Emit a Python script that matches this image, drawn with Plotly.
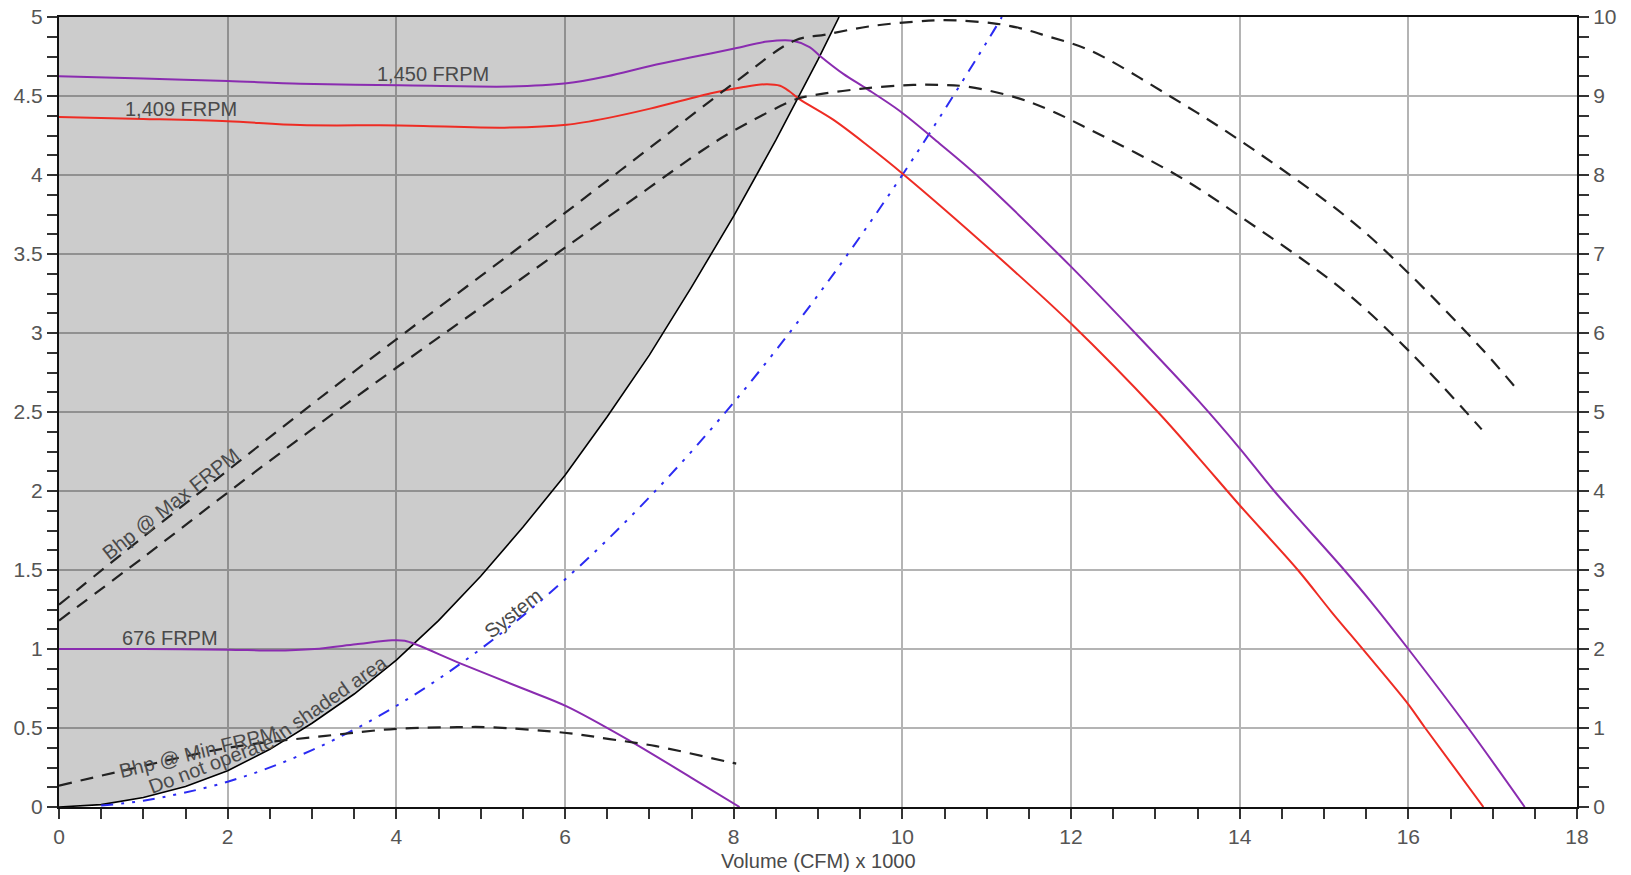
import plotly.graph_objects as go

# ---------------- data ----------------
# Volume (CFM x 1000) / static pressure (left axis)
fan1450_x = [0, 1, 2, 2.86, 4.04, 5.35, 6.02, 6.5, 7.01, 7.5, 8.01, 8.4, 8.7, 8.9, 9.02, 9.3, 9.58, 9.97, 10.44, 10.88, 12.0, 12.76, 13.5, 14.0, 14.41, 15.24, 15.56, 16.0, 16.71, 17.38]
fan1450_y = [4.625, 4.61, 4.595, 4.578, 4.568, 4.56, 4.58, 4.625, 4.69, 4.745, 4.80, 4.845, 4.85, 4.81, 4.755, 4.64, 4.545, 4.405, 4.2, 4.0, 3.42, 3.0, 2.578, 2.27, 2.0, 1.5, 1.297, 1.0, 0.5, 0.0]

fan1409_x = [0, 1, 2, 2.86, 4.04, 5.35, 6.02, 6.5, 7.01, 7.76, 8.1, 8.39, 8.55, 8.66, 8.78, 9.18, 9.58, 10.0, 11.1, 12.0, 13.03, 13.5, 14.0, 14.69, 15.09, 15.49, 16.0, 16.2, 16.89]
fan1409_y = [4.367, 4.355, 4.34, 4.316, 4.314, 4.30, 4.318, 4.36, 4.42, 4.52, 4.555, 4.575, 4.565, 4.53, 4.48, 4.35, 4.19, 4.01, 3.5, 3.06, 2.5, 2.218, 1.91, 1.5, 1.234, 0.98, 0.65, 0.5, 0.0]

fan676_x = [0, 1, 2, 2.55, 3.03, 3.52, 3.95, 4.1, 4.25, 4.75, 5.5, 6.02, 6.75, 7.5, 8.07]
fan676_y = [1.0, 1.0, 0.996, 0.99, 1.0, 1.03, 1.055, 1.052, 1.025, 0.911, 0.75, 0.637, 0.425, 0.185, 0.0]

system_x = [0.5, 1, 2, 3, 4, 5, 6, 7, 8, 9, 10, 11, 11.18]
system_y = [0.01, 0.04, 0.16, 0.36, 0.64, 1.0, 1.44, 1.96, 2.56, 3.24, 4.0, 4.84, 5.0]

limit_x = [0, 0.5, 1, 1.5, 2, 2.5, 3, 3.5, 4, 4.5, 5, 5.5, 6, 6.5, 7, 7.5, 8, 8.5, 9, 9.25]
limit_y = [0, 0.015, 0.06, 0.13, 0.23, 0.365, 0.53, 0.715, 0.93, 1.18, 1.46, 1.77, 2.1, 2.47, 2.86, 3.29, 3.74, 4.22, 4.73, 5.0]

# Brake horsepower (right axis)
bhp_max1_x = [0, 1, 2, 3, 4, 5, 6, 7, 8, 8.72, 9.1, 9.6, 10.13, 10.5, 11.08, 11.39, 11.71, 12.22, 13.17, 14.0, 15.3, 16.0, 16.87, 17.31]
bhp_max1_y = [2.56, 3.42, 4.26, 5.1, 5.92, 6.72, 7.52, 8.34, 9.16, 9.7, 9.78, 9.88, 9.94, 9.96, 9.92, 9.86, 9.76, 9.58, 9.0, 8.44, 7.44, 6.76, 5.8, 5.26]

bhp_max2_x = [0, 1, 2, 3, 4, 5, 6, 7, 7.64, 8.0, 8.74, 8.9, 9.5, 10.13, 10.44, 10.76, 11.35, 11.75, 12.14, 13.25, 14.0, 15.23, 16.0, 16.87]
bhp_max2_y = [2.36, 3.16, 3.98, 4.78, 5.56, 6.32, 7.08, 7.84, 8.32, 8.56, 8.96, 9.0, 9.09, 9.14, 9.14, 9.12, 8.98, 8.82, 8.62, 8.0, 7.48, 6.54, 5.78, 4.78]

bhp_min_x = [0, 0.68, 2.01, 3.16, 4.0, 4.72, 5.09, 5.99, 6.53, 7.08, 7.98, 8.03]
bhp_min_y = [0.27, 0.44, 0.75, 0.9, 0.99, 1.01, 1.01, 0.94, 0.86, 0.77, 0.56, 0.55]

x_ticks = [0, 2, 4, 6, 8, 10, 12, 14, 16, 18]

# ---------------- styling ----------------
FONT = "Arial, 'Liberation Sans', sans-serif"
PURPLE = "#8a2cb0"
RED = "#ee2c24"
BLUE = "#2b2bf2"
TXT = "#4a4a4a"
TICKTXT = "#555555"

fig = go.Figure()

# shaded "do not operate" region
fig.add_trace(go.Scatter(
    x=limit_x + [0], y=limit_y + [5], mode="lines", fill="toself",
    fillcolor="rgba(0,0,0,0.2)", line=dict(width=0), hoverinfo="skip"))
fig.add_trace(go.Scatter(
    x=limit_x, y=limit_y, mode="lines", line=dict(color="black", width=1.6)))

# system curve
fig.add_trace(go.Scatter(
    x=system_x, y=system_y, mode="lines", line_shape="spline",
    line=dict(color=BLUE, width=2, dash="12px,8px,3px,8px,3px,8px")))

# bhp curves on right axis
for bx, by in [(bhp_max1_x, bhp_max1_y), (bhp_max2_x, bhp_max2_y), (bhp_min_x, bhp_min_y)]:
    fig.add_trace(go.Scatter(
        x=bx, y=by, yaxis="y2", mode="lines", line_shape="spline",
        line=dict(color="#222222", width=2.2, dash="13px,9px", smoothing=1.0)))

# fan curves
fig.add_trace(go.Scatter(x=fan1409_x, y=fan1409_y, mode="lines", line_shape="spline",
                         line=dict(color=RED, width=2, smoothing=0.9)))
fig.add_trace(go.Scatter(x=fan1450_x, y=fan1450_y, mode="lines", line_shape="spline",
                         line=dict(color=PURPLE, width=2, smoothing=0.9)))
fig.add_trace(go.Scatter(x=fan676_x, y=fan676_y, mode="lines", line_shape="spline",
                         line=dict(color=PURPLE, width=2, smoothing=0.9)))

labels = [
    ("1,450 FRPM", 4.44, 4.64, 0),
    ("1,409 FRPM", 1.45, 4.42, 0),
    ("676 FRPM", 1.32, 1.07, 0),
    ("Bhp @ Max FRPM", 1.32, 1.92, -38),
    ("System", 5.39, 1.225, -38),
    ("Bhp @ Min FRPM", 1.64, 0.35, -14),
    ("Do not operate", 1.80, 0.275, -21),
    ("in shaded area", 3.22, 0.69, -35),
]
for text, ax, ay, ang in labels:
    fig.add_annotation(x=ax, y=ay, xref="x", yref="y", text=text, showarrow=False,
                       textangle=ang, xanchor="center", yanchor="middle",
                       font=dict(family=FONT, size=20, color=TXT))

# x-axis title
fig.add_annotation(x=0.5, y=-0.0684, xref="paper", yref="paper", text="Volume (CFM) x 1000",
                   showarrow=False, xanchor="center", yanchor="middle",
                   font=dict(family=FONT, size=20, color=TXT))

axis_common = dict(
    showline=True, linecolor="#111111", linewidth=2, automargin=False,
    ticks="outside", ticklen=10, tickwidth=2, tickcolor="#333333",
    tickfont=dict(family=FONT, size=21, color=TICKTXT), zeroline=False,
    ticklabeloverflow="allow",
)

fig.update_layout(
    width=1631, height=875,
    margin=dict(l=59, r=54, t=17, b=68),
    plot_bgcolor="white", paper_bgcolor="white",
    showlegend=False,
    hovermode=False,
    font=dict(family=FONT, color=TXT),
    xaxis=dict(
        range=[0, 18], tickvals=x_ticks, showgrid=True, gridcolor="#b4b4b4", gridwidth=1.5,
        mirror=True,
        minor=dict(tick0=0, dtick=0.5, ticks="outside", ticklen=10, tickwidth=2,
                   tickcolor="#333333", showgrid=False),
        **axis_common),
    yaxis=dict(
        range=[0, 5], tick0=0, dtick=0.5, showgrid=True, gridcolor="#b4b4b4", gridwidth=1.5,
        minor=dict(tick0=0, dtick=0.125, ticks="outside", ticklen=10, tickwidth=2,
                   tickcolor="#333333", showgrid=False),
        **axis_common),
    yaxis2=dict(
        range=[0, 10], tick0=0, dtick=1, overlaying="y", side="right", showgrid=False,
        minor=dict(tick0=0, dtick=0.25, ticks="outside", ticklen=10, tickwidth=2,
                   tickcolor="#333333", showgrid=False),
        **axis_common),
)

# remove the page's default body margin so the 1631x875 figure fills the window exactly
fig.write_html("out.html",
               config={"displayModeBar": False},
               post_script="document.body.style.margin='0';document.body.style.overflow='hidden';")
